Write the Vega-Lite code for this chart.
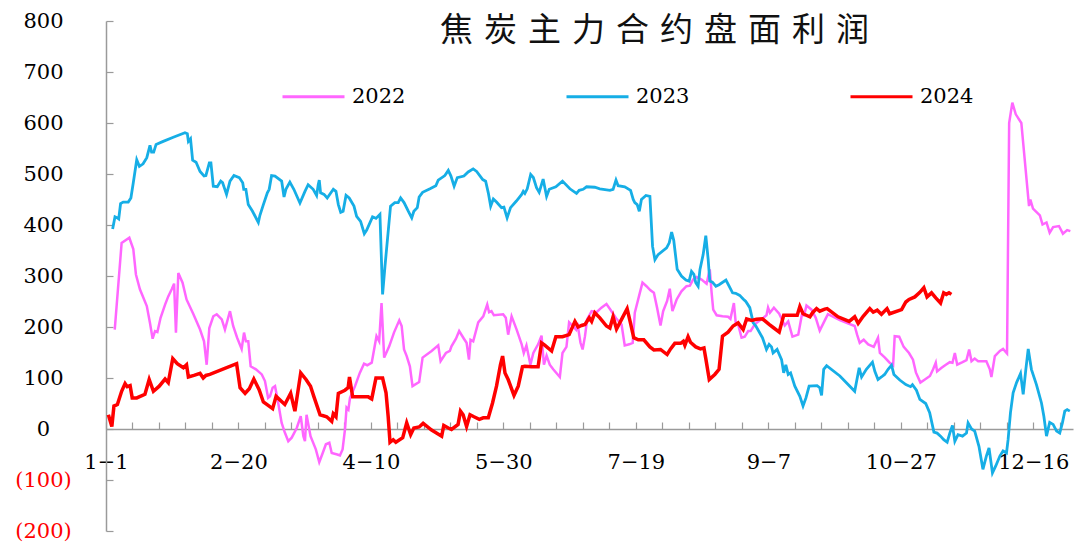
{
  "$schema": "https://vega.github.io/schema/vega-lite/v6.json",
  "width": 967,
  "height": 510,
  "autosize": "none",
  "padding": {"left": 106, "top": 21, "right": 2, "bottom": 11},
  "background": "white",
  "config": {"view": {"stroke": null}},
  "title": {"text": "焦\u2004炭\u2004主\u2004力\u2004合\u2004约\u2004盘\u2004面\u2004利\u2004润", "font": "Noto Sans CJK SC", "fontSize": 33, "fontWeight": "normal", "color": "#111111", "anchor": "middle", "dx": 65, "dy": 42},
  "data": {"values": [
{"year":"2022","day":3.3,"value":195},{"year":"2022","day":5.9,"value":365},{"year":"2022","day":8.8,"value":375},{"year":"2022","day":10.3,"value":353},{"year":"2022","day":11.3,"value":303},{"year":"2022","day":12.8,"value":274},{"year":"2022","day":15.4,"value":241},{"year":"2022","day":16.6,"value":208},{"year":"2022","day":17.6,"value":177},{"year":"2022","day":18.5,"value":192},{"year":"2022","day":19.4,"value":190},{"year":"2022","day":20.6,"value":218},{"year":"2022","day":22.3,"value":244},{"year":"2022","day":23.5,"value":260},{"year":"2022","day":24.8,"value":274},{"year":"2022","day":25.7,"value":285},{"year":"2022","day":26.4,"value":189},{"year":"2022","day":27.3,"value":306},{"year":"2022","day":28.9,"value":287},{"year":"2022","day":30.4,"value":254},{"year":"2022","day":33,"value":225},{"year":"2022","day":35.5,"value":195},{"year":"2022","day":37,"value":172},{"year":"2022","day":38,"value":126},{"year":"2022","day":39,"value":198},{"year":"2022","day":40.5,"value":221},{"year":"2022","day":41.8,"value":225},{"year":"2022","day":43.7,"value":215},{"year":"2022","day":44.9,"value":195},{"year":"2022","day":46.8,"value":231},{"year":"2022","day":48,"value":202},{"year":"2022","day":49.5,"value":179},{"year":"2022","day":51.2,"value":157},{"year":"2022","day":52.1,"value":189},{"year":"2022","day":52.8,"value":172},{"year":"2022","day":53.7,"value":172},{"year":"2022","day":54.6,"value":123},{"year":"2022","day":56.6,"value":117},{"year":"2022","day":58.8,"value":107},{"year":"2022","day":60,"value":94},{"year":"2022","day":61.2,"value":61},{"year":"2022","day":61.9,"value":64},{"year":"2022","day":62.9,"value":81},{"year":"2022","day":63.8,"value":84},{"year":"2022","day":65,"value":51},{"year":"2022","day":66.3,"value":12},{"year":"2022","day":67.5,"value":-7},{"year":"2022","day":68.8,"value":-24},{"year":"2022","day":70.1,"value":-17},{"year":"2022","day":72,"value":2},{"year":"2022","day":73.5,"value":25},{"year":"2022","day":74.5,"value":-14},{"year":"2022","day":75.1,"value":-24},{"year":"2022","day":75.7,"value":28},{"year":"2022","day":77.2,"value":-14},{"year":"2022","day":79.2,"value":-40},{"year":"2022","day":80.5,"value":-65},{"year":"2022","day":81.8,"value":-47},{"year":"2022","day":83,"value":-30},{"year":"2022","day":84.3,"value":-27},{"year":"2022","day":85.2,"value":-47},{"year":"2022","day":87.3,"value":-50},{"year":"2022","day":88.3,"value":-52},{"year":"2022","day":89.3,"value":-40},{"year":"2022","day":90.2,"value":-1},{"year":"2022","day":90.8,"value":42},{"year":"2022","day":91.5,"value":38},{"year":"2022","day":92.1,"value":61},{"year":"2022","day":94,"value":84},{"year":"2022","day":95.8,"value":110},{"year":"2022","day":97.4,"value":128},{"year":"2022","day":98.6,"value":125},{"year":"2022","day":100.3,"value":130},{"year":"2022","day":102.1,"value":182},{"year":"2022","day":103.1,"value":172},{"year":"2022","day":104,"value":247},{"year":"2022","day":105,"value":140},{"year":"2022","day":106.9,"value":162},{"year":"2022","day":108.7,"value":189},{"year":"2022","day":110.7,"value":213},{"year":"2022","day":111.6,"value":202},{"year":"2022","day":112.5,"value":156},{"year":"2022","day":113.5,"value":143},{"year":"2022","day":114.7,"value":123},{"year":"2022","day":115.7,"value":84},{"year":"2022","day":118.2,"value":92},{"year":"2022","day":119.5,"value":140},{"year":"2022","day":122.9,"value":153},{"year":"2022","day":125.4,"value":164},{"year":"2022","day":126.3,"value":133},{"year":"2022","day":128.3,"value":149},{"year":"2022","day":129.8,"value":153},{"year":"2022","day":130.4,"value":162},{"year":"2022","day":132.1,"value":177},{"year":"2022","day":133.3,"value":192},{"year":"2022","day":135.1,"value":177},{"year":"2022","day":136.1,"value":169},{"year":"2022","day":137,"value":136},{"year":"2022","day":137.6,"value":175},{"year":"2022","day":138.6,"value":172},{"year":"2022","day":140.5,"value":209},{"year":"2022","day":142.4,"value":221},{"year":"2022","day":143.9,"value":244},{"year":"2022","day":144.6,"value":229},{"year":"2022","day":145.5,"value":231},{"year":"2022","day":146.4,"value":223},{"year":"2022","day":149.9,"value":225},{"year":"2022","day":150.9,"value":218},{"year":"2022","day":151.8,"value":185},{"year":"2022","day":153.1,"value":221},{"year":"2022","day":155,"value":195},{"year":"2022","day":156.9,"value":166},{"year":"2022","day":157.7,"value":149},{"year":"2022","day":158.7,"value":164},{"year":"2022","day":160.2,"value":126},{"year":"2022","day":161.3,"value":149},{"year":"2022","day":163.1,"value":166},{"year":"2022","day":164.4,"value":183},{"year":"2022","day":165.3,"value":126},{"year":"2022","day":166.3,"value":144},{"year":"2022","day":167.5,"value":126},{"year":"2022","day":168.8,"value":117},{"year":"2022","day":171.3,"value":102},{"year":"2022","day":172.3,"value":149},{"year":"2022","day":173.8,"value":161},{"year":"2022","day":174.8,"value":209},{"year":"2022","day":176.1,"value":202},{"year":"2022","day":177.4,"value":195},{"year":"2022","day":177.9,"value":208},{"year":"2022","day":179.1,"value":169},{"year":"2022","day":179.9,"value":156},{"year":"2022","day":180.8,"value":182},{"year":"2022","day":181.6,"value":215},{"year":"2022","day":183.3,"value":231},{"year":"2022","day":185.2,"value":229},{"year":"2022","day":187,"value":238},{"year":"2022","day":188.9,"value":245},{"year":"2022","day":190.8,"value":231},{"year":"2022","day":192.7,"value":216},{"year":"2022","day":194.6,"value":205},{"year":"2022","day":195.8,"value":164},{"year":"2022","day":197.5,"value":166},{"year":"2022","day":198.8,"value":169},{"year":"2022","day":199.6,"value":228},{"year":"2022","day":201.5,"value":267},{"year":"2022","day":202.5,"value":287},{"year":"2022","day":204,"value":280},{"year":"2022","day":205.5,"value":272},{"year":"2022","day":206.8,"value":267},{"year":"2022","day":208,"value":238},{"year":"2022","day":209.3,"value":203},{"year":"2022","day":210.3,"value":231},{"year":"2022","day":211.8,"value":251},{"year":"2022","day":212.8,"value":275},{"year":"2022","day":213.8,"value":231},{"year":"2022","day":215.4,"value":254},{"year":"2022","day":217.2,"value":270},{"year":"2022","day":219.1,"value":280},{"year":"2022","day":220.4,"value":281},{"year":"2022","day":221.6,"value":293},{"year":"2022","day":222.9,"value":298},{"year":"2022","day":224.8,"value":293},{"year":"2022","day":226.7,"value":285},{"year":"2022","day":227.9,"value":313},{"year":"2022","day":228.6,"value":267},{"year":"2022","day":229.2,"value":234},{"year":"2022","day":230.5,"value":223},{"year":"2022","day":232.7,"value":221},{"year":"2022","day":234.8,"value":220},{"year":"2022","day":235.7,"value":216},{"year":"2022","day":237,"value":247},{"year":"2022","day":237.7,"value":208},{"year":"2022","day":238.6,"value":205},{"year":"2022","day":239.9,"value":179},{"year":"2022","day":241.1,"value":181},{"year":"2022","day":242.4,"value":192},{"year":"2022","day":243.3,"value":192},{"year":"2022","day":244.5,"value":202},{"year":"2022","day":245.5,"value":208},{"year":"2022","day":247.4,"value":215},{"year":"2022","day":249.3,"value":223},{"year":"2022","day":249.9,"value":238},{"year":"2022","day":250.6,"value":228},{"year":"2022","day":252.1,"value":238},{"year":"2022","day":254.1,"value":226},{"year":"2022","day":255,"value":216},{"year":"2022","day":256.2,"value":203},{"year":"2022","day":257.5,"value":211},{"year":"2022","day":259.1,"value":181},{"year":"2022","day":261.3,"value":185},{"year":"2022","day":262.9,"value":231},{"year":"2022","day":263.4,"value":221},{"year":"2022","day":264.4,"value":242},{"year":"2022","day":266.3,"value":234},{"year":"2022","day":267.9,"value":218},{"year":"2022","day":269.4,"value":193},{"year":"2022","day":271.5,"value":215},{"year":"2022","day":272.5,"value":225},{"year":"2022","day":277.2,"value":213},{"year":"2022","day":282.6,"value":202},{"year":"2022","day":283.5,"value":185},{"year":"2022","day":284.5,"value":169},{"year":"2022","day":286,"value":175},{"year":"2022","day":287.7,"value":166},{"year":"2022","day":289.8,"value":161},{"year":"2022","day":291.4,"value":179},{"year":"2022","day":292.1,"value":149},{"year":"2022","day":294,"value":140},{"year":"2022","day":295.8,"value":130},{"year":"2022","day":297.1,"value":125},{"year":"2022","day":297.7,"value":182},{"year":"2022","day":299.4,"value":181},{"year":"2022","day":301.1,"value":161},{"year":"2022","day":303.1,"value":149},{"year":"2022","day":304.6,"value":136},{"year":"2022","day":305.7,"value":111},{"year":"2022","day":307.4,"value":91},{"year":"2022","day":309.1,"value":97},{"year":"2022","day":311,"value":104},{"year":"2022","day":312.2,"value":117},{"year":"2022","day":313.2,"value":130},{"year":"2022","day":313.7,"value":113},{"year":"2022","day":315.4,"value":120},{"year":"2022","day":317,"value":126},{"year":"2022","day":318.5,"value":131},{"year":"2022","day":319.5,"value":130},{"year":"2022","day":320.4,"value":149},{"year":"2022","day":321.3,"value":126},{"year":"2022","day":323.3,"value":131},{"year":"2022","day":324.8,"value":135},{"year":"2022","day":325.8,"value":156},{"year":"2022","day":326.7,"value":133},{"year":"2022","day":327.9,"value":138},{"year":"2022","day":329.2,"value":133},{"year":"2022","day":332.3,"value":133},{"year":"2022","day":333.6,"value":117},{"year":"2022","day":334.2,"value":102},{"year":"2022","day":335.5,"value":143},{"year":"2022","day":337.4,"value":153},{"year":"2022","day":338.6,"value":157},{"year":"2022","day":340.1,"value":148},{"year":"2022","day":340.9,"value":600},{"year":"2022","day":342.1,"value":640},{"year":"2022","day":343.4,"value":617},{"year":"2022","day":345.5,"value":600},{"year":"2022","day":348.4,"value":437},{"year":"2022","day":348.9,"value":450},{"year":"2022","day":349.9,"value":432},{"year":"2022","day":352.5,"value":419},{"year":"2022","day":353.5,"value":401},{"year":"2022","day":355,"value":405},{"year":"2022","day":356.2,"value":385},{"year":"2022","day":357.5,"value":396},{"year":"2022","day":359.7,"value":398},{"year":"2022","day":361.2,"value":383},{"year":"2022","day":362.8,"value":390},{"year":"2022","day":364,"value":388},
{"year":"2023","day":2.5,"value":392},{"year":"2023","day":3.4,"value":416},{"year":"2023","day":4.3,"value":414},{"year":"2023","day":4.8,"value":412},{"year":"2023","day":5.5,"value":442},{"year":"2023","day":6.5,"value":445},{"year":"2023","day":8.4,"value":445},{"year":"2023","day":9.4,"value":453},{"year":"2023","day":10.3,"value":483},{"year":"2023","day":11.6,"value":528},{"year":"2023","day":12.6,"value":515},{"year":"2023","day":14,"value":520},{"year":"2023","day":15.4,"value":532},{"year":"2023","day":16.6,"value":556},{"year":"2023","day":17.2,"value":543},{"year":"2023","day":18,"value":543},{"year":"2023","day":18.9,"value":558},{"year":"2023","day":21.6,"value":564},{"year":"2023","day":25.4,"value":572},{"year":"2023","day":29.8,"value":581},{"year":"2023","day":30.7,"value":579},{"year":"2023","day":31.1,"value":564},{"year":"2023","day":31.9,"value":569},{"year":"2023","day":32.7,"value":527},{"year":"2023","day":34,"value":523},{"year":"2023","day":35.5,"value":505},{"year":"2023","day":37,"value":496},{"year":"2023","day":37.7,"value":497},{"year":"2023","day":39,"value":522},{"year":"2023","day":39.6,"value":522},{"year":"2023","day":40.5,"value":476},{"year":"2023","day":42,"value":475},{"year":"2023","day":43.3,"value":486},{"year":"2023","day":44,"value":483},{"year":"2023","day":45.5,"value":460},{"year":"2023","day":46.8,"value":486},{"year":"2023","day":48.3,"value":497},{"year":"2023","day":50.3,"value":493},{"year":"2023","day":51.6,"value":483},{"year":"2023","day":52,"value":470},{"year":"2023","day":52.8,"value":470},{"year":"2023","day":53.7,"value":440},{"year":"2023","day":55.3,"value":427},{"year":"2023","day":57.5,"value":405},{"year":"2023","day":58.1,"value":419},{"year":"2023","day":59.4,"value":440},{"year":"2023","day":60.9,"value":463},{"year":"2023","day":61.6,"value":470},{"year":"2023","day":62.5,"value":497},{"year":"2023","day":63.8,"value":496},{"year":"2023","day":66.3,"value":486},{"year":"2023","day":67.2,"value":455},{"year":"2023","day":67.9,"value":470},{"year":"2023","day":69.4,"value":484},{"year":"2023","day":70.9,"value":470},{"year":"2023","day":73.2,"value":443},{"year":"2023","day":75.1,"value":466},{"year":"2023","day":76.3,"value":479},{"year":"2023","day":78.2,"value":470},{"year":"2023","day":79.5,"value":458},{"year":"2023","day":80.1,"value":479},{"year":"2023","day":80.5,"value":488},{"year":"2023","day":81,"value":463},{"year":"2023","day":82.3,"value":460},{"year":"2023","day":83.5,"value":453},{"year":"2023","day":85.8,"value":470},{"year":"2023","day":86.8,"value":466},{"year":"2023","day":87.7,"value":440},{"year":"2023","day":88.6,"value":425},{"year":"2023","day":89.5,"value":427},{"year":"2023","day":90.6,"value":458},{"year":"2023","day":91.8,"value":453},{"year":"2023","day":93.6,"value":437},{"year":"2023","day":94.6,"value":417},{"year":"2023","day":96.1,"value":407},{"year":"2023","day":97.5,"value":383},{"year":"2023","day":98.4,"value":390},{"year":"2023","day":100.6,"value":416},{"year":"2023","day":101.9,"value":413},{"year":"2023","day":103.4,"value":421},{"year":"2023","day":104.4,"value":264},{"year":"2023","day":105.3,"value":319},{"year":"2023","day":107.4,"value":437},{"year":"2023","day":109,"value":444},{"year":"2023","day":110.3,"value":444},{"year":"2023","day":111.2,"value":453},{"year":"2023","day":112.5,"value":444},{"year":"2023","day":114.1,"value":427},{"year":"2023","day":115.4,"value":414},{"year":"2023","day":116.2,"value":427},{"year":"2023","day":117.5,"value":434},{"year":"2023","day":118.2,"value":455},{"year":"2023","day":119.5,"value":464},{"year":"2023","day":122.3,"value":471},{"year":"2023","day":124.5,"value":477},{"year":"2023","day":125.4,"value":488},{"year":"2023","day":127.9,"value":497},{"year":"2023","day":129.2,"value":507},{"year":"2023","day":130.2,"value":496},{"year":"2023","day":131.4,"value":476},{"year":"2023","day":132.6,"value":493},{"year":"2023","day":135.1,"value":496},{"year":"2023","day":136.7,"value":504},{"year":"2023","day":138.6,"value":510},{"year":"2023","day":139.9,"value":505},{"year":"2023","day":142.2,"value":489},{"year":"2023","day":143.3,"value":486},{"year":"2023","day":144.3,"value":463},{"year":"2023","day":145.2,"value":437},{"year":"2023","day":146.2,"value":451},{"year":"2023","day":147.4,"value":445},{"year":"2023","day":149.3,"value":434},{"year":"2023","day":150.2,"value":435},{"year":"2023","day":151.4,"value":414},{"year":"2023","day":152.7,"value":434},{"year":"2023","day":154.9,"value":447},{"year":"2023","day":156.9,"value":460},{"year":"2023","day":157.5,"value":466},{"year":"2023","day":158.1,"value":462},{"year":"2023","day":159,"value":471},{"year":"2023","day":160.3,"value":499},{"year":"2023","day":161.3,"value":493},{"year":"2023","day":162.5,"value":473},{"year":"2023","day":163.5,"value":464},{"year":"2023","day":165,"value":490},{"year":"2023","day":166.3,"value":456},{"year":"2023","day":167.3,"value":470},{"year":"2023","day":169.8,"value":475},{"year":"2023","day":172.3,"value":486},{"year":"2023","day":175.1,"value":471},{"year":"2023","day":177.6,"value":462},{"year":"2023","day":178.6,"value":468},{"year":"2023","day":180.1,"value":470},{"year":"2023","day":181.4,"value":475},{"year":"2023","day":184.5,"value":474},{"year":"2023","day":186.4,"value":471},{"year":"2023","day":190.2,"value":468},{"year":"2023","day":191.4,"value":470},{"year":"2023","day":192.5,"value":488},{"year":"2023","day":193.3,"value":477},{"year":"2023","day":195.8,"value":475},{"year":"2023","day":198,"value":468},{"year":"2023","day":199,"value":450},{"year":"2023","day":199.6,"value":444},{"year":"2023","day":200.5,"value":440},{"year":"2023","day":201.3,"value":427},{"year":"2023","day":202.1,"value":450},{"year":"2023","day":203.8,"value":458},{"year":"2023","day":205.3,"value":456},{"year":"2023","day":206.3,"value":358},{"year":"2023","day":207.2,"value":332},{"year":"2023","day":208.4,"value":342},{"year":"2023","day":211.6,"value":355},{"year":"2023","day":212.6,"value":365},{"year":"2023","day":213.5,"value":386},{"year":"2023","day":214.3,"value":370},{"year":"2023","day":215.6,"value":313},{"year":"2023","day":217.2,"value":300},{"year":"2023","day":218.9,"value":292},{"year":"2023","day":220.1,"value":290},{"year":"2023","day":221,"value":309},{"year":"2023","day":221.9,"value":303},{"year":"2023","day":222.6,"value":287},{"year":"2023","day":223.5,"value":280},{"year":"2023","day":224.2,"value":313},{"year":"2023","day":225.4,"value":342},{"year":"2023","day":226.4,"value":379},{"year":"2023","day":227.3,"value":332},{"year":"2023","day":227.9,"value":290},{"year":"2023","day":228.9,"value":288},{"year":"2023","day":230.2,"value":280},{"year":"2023","day":231.4,"value":283},{"year":"2023","day":234,"value":292},{"year":"2023","day":235.2,"value":280},{"year":"2023","day":236.5,"value":267},{"year":"2023","day":237.7,"value":266},{"year":"2023","day":239.2,"value":262},{"year":"2023","day":240.5,"value":255},{"year":"2023","day":241.5,"value":250},{"year":"2023","day":243,"value":238},{"year":"2023","day":244.3,"value":208},{"year":"2023","day":245.3,"value":202},{"year":"2023","day":247.8,"value":179},{"year":"2023","day":249.3,"value":156},{"year":"2023","day":250.3,"value":166},{"year":"2023","day":251.2,"value":161},{"year":"2023","day":251.8,"value":149},{"year":"2023","day":253.3,"value":156},{"year":"2023","day":255,"value":136},{"year":"2023","day":255.8,"value":110},{"year":"2023","day":256.6,"value":126},{"year":"2023","day":257.5,"value":107},{"year":"2023","day":258.4,"value":110},{"year":"2023","day":260,"value":84},{"year":"2023","day":261.9,"value":64},{"year":"2023","day":263.1,"value":45},{"year":"2023","day":264.2,"value":61},{"year":"2023","day":265.4,"value":84},{"year":"2023","day":268.4,"value":85},{"year":"2023","day":269.4,"value":81},{"year":"2023","day":270.1,"value":66},{"year":"2023","day":270.9,"value":117},{"year":"2023","day":272,"value":124},{"year":"2023","day":277,"value":104},{"year":"2023","day":282.6,"value":74},{"year":"2023","day":284.3,"value":120},{"year":"2023","day":285.2,"value":102},{"year":"2023","day":287,"value":117},{"year":"2023","day":289.3,"value":131},{"year":"2023","day":290.2,"value":113},{"year":"2023","day":291.4,"value":97},{"year":"2023","day":292.7,"value":102},{"year":"2023","day":293.9,"value":107},{"year":"2023","day":295.2,"value":117},{"year":"2023","day":296.5,"value":125},{"year":"2023","day":297.4,"value":107},{"year":"2023","day":299.6,"value":96},{"year":"2023","day":301.9,"value":87},{"year":"2023","day":303.7,"value":83},{"year":"2023","day":304.4,"value":87},{"year":"2023","day":305.9,"value":76},{"year":"2023","day":307.2,"value":58},{"year":"2023","day":309.4,"value":50},{"year":"2023","day":310.9,"value":32},{"year":"2023","day":312.5,"value":-6},{"year":"2023","day":313.7,"value":-8},{"year":"2023","day":315,"value":-14},{"year":"2023","day":316.2,"value":-21},{"year":"2023","day":317.5,"value":-26},{"year":"2023","day":318.5,"value":-8},{"year":"2023","day":319.5,"value":7},{"year":"2023","day":320.4,"value":-24},{"year":"2023","day":321.6,"value":-11},{"year":"2023","day":323.3,"value":-14},{"year":"2023","day":324.8,"value":-8},{"year":"2023","day":325.4,"value":12},{"year":"2023","day":326.7,"value":0},{"year":"2023","day":327.9,"value":-4},{"year":"2023","day":329.5,"value":-34},{"year":"2023","day":331,"value":-79},{"year":"2023","day":332.3,"value":-53},{"year":"2023","day":333.3,"value":-37},{"year":"2023","day":334.6,"value":-86},{"year":"2023","day":335.8,"value":-73},{"year":"2023","day":337.4,"value":-53},{"year":"2023","day":338.6,"value":-43},{"year":"2023","day":339.9,"value":-47},{"year":"2023","day":340.5,"value":-21},{"year":"2023","day":341.4,"value":32},{"year":"2023","day":342.4,"value":71},{"year":"2023","day":343.7,"value":91},{"year":"2023","day":345.2,"value":109},{"year":"2023","day":346.2,"value":68},{"year":"2023","day":347.2,"value":117},{"year":"2023","day":348.1,"value":157},{"year":"2023","day":349.3,"value":117},{"year":"2023","day":351.2,"value":87},{"year":"2023","day":353.1,"value":51},{"year":"2023","day":354,"value":25},{"year":"2023","day":355,"value":-14},{"year":"2023","day":356.2,"value":13},{"year":"2023","day":357.5,"value":9},{"year":"2023","day":358.8,"value":-4},{"year":"2023","day":360,"value":-8},{"year":"2023","day":361,"value":12},{"year":"2023","day":361.9,"value":35},{"year":"2023","day":362.8,"value":38},{"year":"2023","day":363.8,"value":35},
{"year":"2024","day":0.9,"value":28},{"year":"2024","day":2.2,"value":5},{"year":"2024","day":3,"value":45},{"year":"2024","day":4.3,"value":48},{"year":"2024","day":5.9,"value":74},{"year":"2024","day":7.2,"value":89},{"year":"2024","day":8,"value":83},{"year":"2024","day":9.1,"value":85},{"year":"2024","day":9.9,"value":61},{"year":"2024","day":11.6,"value":61},{"year":"2024","day":14.7,"value":68},{"year":"2024","day":16.3,"value":97},{"year":"2024","day":17.9,"value":74},{"year":"2024","day":20.1,"value":84},{"year":"2024","day":22.3,"value":98},{"year":"2024","day":23.5,"value":91},{"year":"2024","day":25.2,"value":138},{"year":"2024","day":26.9,"value":128},{"year":"2024","day":29.2,"value":120},{"year":"2024","day":30.4,"value":126},{"year":"2024","day":31.1,"value":102},{"year":"2024","day":33.2,"value":105},{"year":"2024","day":35.5,"value":109},{"year":"2024","day":36.7,"value":100},{"year":"2024","day":37.7,"value":105},{"year":"2024","day":39.2,"value":107},{"year":"2024","day":49.3,"value":128},{"year":"2024","day":50.6,"value":81},{"year":"2024","day":52.5,"value":70},{"year":"2024","day":54.1,"value":79},{"year":"2024","day":55.8,"value":98},{"year":"2024","day":57.8,"value":77},{"year":"2024","day":59.4,"value":53},{"year":"2024","day":62.9,"value":40},{"year":"2024","day":64.2,"value":64},{"year":"2024","day":67.5,"value":48},{"year":"2024","day":69.7,"value":70},{"year":"2024","day":71.3,"value":35},{"year":"2024","day":73.5,"value":110},{"year":"2024","day":75.5,"value":97},{"year":"2024","day":77.2,"value":84},{"year":"2024","day":78.5,"value":63},{"year":"2024","day":80.8,"value":28},{"year":"2024","day":83.3,"value":24},{"year":"2024","day":85.2,"value":15},{"year":"2024","day":85.8,"value":30},{"year":"2024","day":86.8,"value":24},{"year":"2024","day":87.7,"value":70},{"year":"2024","day":90.2,"value":76},{"year":"2024","day":91.4,"value":81},{"year":"2024","day":91.9,"value":102},{"year":"2024","day":93.1,"value":63},{"year":"2024","day":99,"value":63},{"year":"2024","day":100.3,"value":59},{"year":"2024","day":101.9,"value":100},{"year":"2024","day":104.4,"value":100},{"year":"2024","day":105.7,"value":71},{"year":"2024","day":106.5,"value":25},{"year":"2024","day":107.2,"value":-26},{"year":"2024","day":108.4,"value":-21},{"year":"2024","day":109.4,"value":-26},{"year":"2024","day":112,"value":-17},{"year":"2024","day":113.5,"value":12},{"year":"2024","day":115,"value":-11},{"year":"2024","day":116.2,"value":2},{"year":"2024","day":118.2,"value":4},{"year":"2024","day":119.7,"value":11},{"year":"2024","day":122.9,"value":-2},{"year":"2024","day":126.7,"value":-14},{"year":"2024","day":127.5,"value":7},{"year":"2024","day":129.2,"value":2},{"year":"2024","day":130.4,"value":-1},{"year":"2024","day":132.9,"value":9},{"year":"2024","day":133.8,"value":35},{"year":"2024","day":134.8,"value":28},{"year":"2024","day":136.1,"value":5},{"year":"2024","day":137.4,"value":28},{"year":"2024","day":138.9,"value":24},{"year":"2024","day":140.9,"value":19},{"year":"2024","day":142.4,"value":22},{"year":"2024","day":144.3,"value":22},{"year":"2024","day":145.9,"value":51},{"year":"2024","day":147.4,"value":84},{"year":"2024","day":148.9,"value":126},{"year":"2024","day":149.7,"value":143},{"year":"2024","day":150.6,"value":110},{"year":"2024","day":151.8,"value":97},{"year":"2024","day":154,"value":66},{"year":"2024","day":155.6,"value":84},{"year":"2024","day":157.2,"value":122},{"year":"2024","day":158.1,"value":123},{"year":"2024","day":160.6,"value":122},{"year":"2024","day":163.1,"value":122},{"year":"2024","day":164.4,"value":169},{"year":"2024","day":165.7,"value":164},{"year":"2024","day":168.2,"value":153},{"year":"2024","day":169.8,"value":181},{"year":"2024","day":172.3,"value":181},{"year":"2024","day":174.8,"value":185},{"year":"2024","day":177,"value":211},{"year":"2024","day":178.2,"value":200},{"year":"2024","day":179.5,"value":203},{"year":"2024","day":180.8,"value":205},{"year":"2024","day":182.4,"value":218},{"year":"2024","day":183.3,"value":211},{"year":"2024","day":184.5,"value":228},{"year":"2024","day":186.4,"value":218},{"year":"2024","day":188.9,"value":202},{"year":"2024","day":190.2,"value":198},{"year":"2024","day":191.4,"value":220},{"year":"2024","day":192.7,"value":196},{"year":"2024","day":194.6,"value":215},{"year":"2024","day":196.7,"value":236},{"year":"2024","day":198,"value":207},{"year":"2024","day":199.2,"value":179},{"year":"2024","day":200.9,"value":175},{"year":"2024","day":203,"value":175},{"year":"2024","day":205.3,"value":161},{"year":"2024","day":206.8,"value":155},{"year":"2024","day":209.3,"value":156},{"year":"2024","day":211.8,"value":146},{"year":"2024","day":213.1,"value":157},{"year":"2024","day":214.7,"value":168},{"year":"2024","day":216.9,"value":168},{"year":"2024","day":217.9,"value":172},{"year":"2024","day":218.5,"value":164},{"year":"2024","day":219.7,"value":181},{"year":"2024","day":220.6,"value":170},{"year":"2024","day":222.6,"value":161},{"year":"2024","day":224.4,"value":157},{"year":"2024","day":225.7,"value":159},{"year":"2024","day":226.4,"value":138},{"year":"2024","day":227.7,"value":97},{"year":"2024","day":229.8,"value":107},{"year":"2024","day":231.4,"value":117},{"year":"2024","day":232.7,"value":182},{"year":"2024","day":234.8,"value":190},{"year":"2024","day":236.7,"value":202},{"year":"2024","day":238.6,"value":208},{"year":"2024","day":240.5,"value":195},{"year":"2024","day":241.8,"value":216},{"year":"2024","day":243.7,"value":213},{"year":"2024","day":245.5,"value":215},{"year":"2024","day":247.8,"value":216},{"year":"2024","day":250.3,"value":205},{"year":"2024","day":252.1,"value":198},{"year":"2024","day":254.1,"value":190},{"year":"2024","day":255.8,"value":223},{"year":"2024","day":258.4,"value":223},{"year":"2024","day":260.9,"value":223},{"year":"2024","day":261.9,"value":240},{"year":"2024","day":263.1,"value":226},{"year":"2024","day":265.7,"value":220},{"year":"2024","day":266.7,"value":228},{"year":"2024","day":268.2,"value":236},{"year":"2024","day":269.4,"value":231},{"year":"2024","day":271.3,"value":235},{"year":"2024","day":272.2,"value":236},{"year":"2024","day":276.3,"value":220},{"year":"2024","day":280.5,"value":211},{"year":"2024","day":282.6,"value":220},{"year":"2024","day":283.9,"value":207},{"year":"2024","day":285.8,"value":221},{"year":"2024","day":288.3,"value":236},{"year":"2024","day":289.6,"value":229},{"year":"2024","day":291.1,"value":233},{"year":"2024","day":292.7,"value":225},{"year":"2024","day":294.8,"value":236},{"year":"2024","day":295.8,"value":226},{"year":"2024","day":300.3,"value":234},{"year":"2024","day":301.9,"value":249},{"year":"2024","day":303.1,"value":254},{"year":"2024","day":305.3,"value":259},{"year":"2024","day":307.2,"value":268},{"year":"2024","day":308.7,"value":277},{"year":"2024","day":309.9,"value":259},{"year":"2024","day":311.6,"value":267},{"year":"2024","day":313.2,"value":257},{"year":"2024","day":315,"value":247},{"year":"2024","day":316.2,"value":267},{"year":"2024","day":317.2,"value":264},{"year":"2024","day":318.2,"value":267},{"year":"2024","day":319.1,"value":264}
  ]},
  "layer": [
    {"transform": [{"filter": "datum.year == '2022'"}], "mark": {"type": "line", "strokeWidth": 2.5, "clip": true}, "encoding": {}},
    {"transform": [{"filter": "datum.year == '2023'"}], "mark": {"type": "line", "strokeWidth": 2.8, "clip": true}, "encoding": {}},
    {"transform": [{"filter": "datum.year == '2024'"}], "mark": {"type": "line", "strokeWidth": 3.5, "clip": true}, "encoding": {}}
  ],
  "encoding": {
    "x": {
      "field": "day", "type": "quantitative",
      "scale": {"domain": [0, 365], "nice": false, "zero": false},
      "axis": {
        "values": [0,10,20,30,40,50,60,70,80,90,100,110,120,130,140,150,160,170,180,190,200,210,220,230,240,250,260,270,280,290,300,310,320,330,340,350,360],
        "labelExpr": "datum.value % 50 === 0 ? timeFormat(datetime(2024, 0, 1 + datum.value), '%-m−%-d') : ''",
        "offset": -102, "tickSize": -7, "domainColor": "#9a9a9a", "tickColor": "#9a9a9a", "domainWidth": 1.5, "tickWidth": 1.2,
        "labelFont": "DejaVu Serif", "labelFontSize": 21, "labelColor": "#000000", "labelPadding": 40,
        "labelBaseline": "middle", "labelAlign": "center", "labelOverlap": false, "labelFlush": false,
        "grid": false, "title": null
      }
    },
    "y": {
      "field": "value", "type": "quantitative",
      "scale": {"domain": [-200, 800], "nice": false, "zero": false},
      "axis": {
        "values": [-200,-100,0,100,200,300,400,500,600,700,800],
        "labelExpr": "datum.value < 0 ? '(' + (-datum.value) + ')' : '' + datum.value",
        "labelColor": {"condition": {"test": "datum.value < 0", "value": "#FF0000"}, "value": "#000000"},
        "tickSize": -7, "domainColor": "#9a9a9a", "tickColor": "#9a9a9a", "domainWidth": 1.5, "tickWidth": 1.2,
        "labelFont": "DejaVu Serif", "labelFontSize": 21, "labelPadding": 70,
        "labelAlign": "center", "labelBaseline": "middle", "labelOverlap": false, "labelFlush": false,
        "grid": false, "title": null
      }
    },
    "color": {
      "field": "year", "type": "nominal",
      "scale": {"domain": ["2022", "2023", "2024"], "range": ["#FF66FF", "#16AEE6", "#FF0000"]},
      "legend": {
        "orient": "none", "legendX": 175, "legendY": 43, "direction": "horizontal", "title": null,
        "symbolType": "stroke", "symbolSize": 3844, "symbolStrokeWidth": 3,
        "labelFont": "DejaVu Serif", "labelFontSize": 21, "labelColor": "#000000", "labelOffset": 6,
        "columnPadding": 154
      }
    }
  }
}
